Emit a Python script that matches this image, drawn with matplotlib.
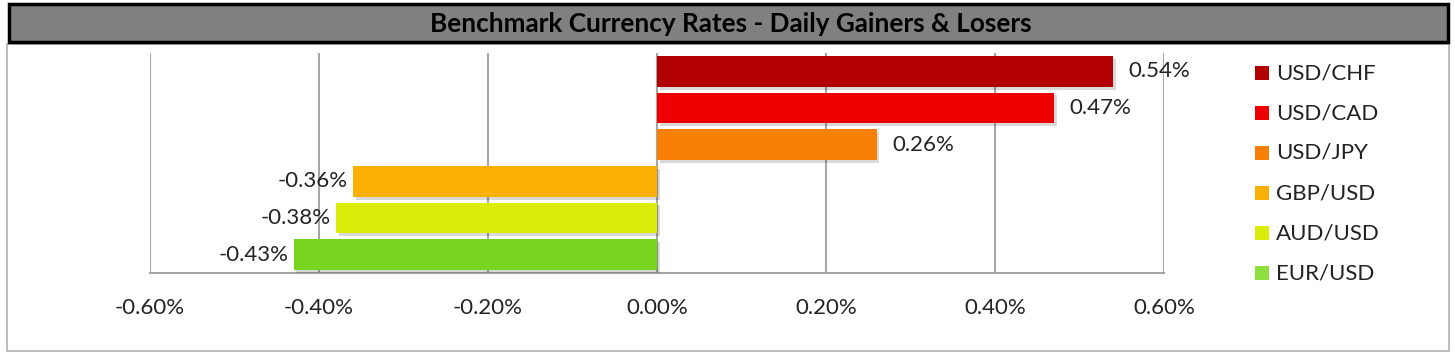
import matplotlib
matplotlib.use("Agg")
import matplotlib.pyplot as plt
from matplotlib.patches import Rectangle
import matplotlib.patheffects as pe
from matplotlib.ticker import FuncFormatter

pairs = ["USD/CHF", "USD/CAD", "USD/JPY", "GBP/USD", "AUD/USD", "EUR/USD"]
changes = [0.54, 0.47, 0.26, -0.36, -0.38, -0.43]
colors = ["#B20000", "#EE0000", "#F98007", "#F9B003", "#D9EC0A", "#77D41F"]
legend_colors = ["#B20000", "#EE0000", "#F98007", "#F9B003", "#D9EC0A", "#8EE040"]
title = "Benchmark Currency Rates - Daily Gainers & Losers"
xticks = [-0.6, -0.4, -0.2, 0.0, 0.2, 0.4, 0.6]

W, H = 1455, 361
fig = plt.figure(figsize=(W / 100, H / 100), dpi=100)
plt.rcParams['font.family'] = ['Lato', 'DejaVu Sans']
FS = 16

def fx(px): return px / W
def fy(py): return 1 - py / H

# outer frame
fig.patches.append(Rectangle((fx(7), fy(351)), fx(1449) - fx(7), fy(44) - fy(351),
                             transform=fig.transFigure, facecolor="white",
                             edgecolor="#B0B0B0", lw=1.2, zorder=-2))
# title bar
fig.patches.append(Rectangle((fx(9), fy(42)), fx(1448) - fx(9), fy(4) - fy(42),
                             transform=fig.transFigure, facecolor="#808080",
                             edgecolor="black", lw=2.5, zorder=-1))
fig.text(fx(731), fy(24), title, ha="center", va="center", fontsize=18.8,
         fontweight="bold", color="black")

ax = fig.add_axes([fx(150), fy(273), fx(1164) - fx(150), fy(53) - fy(273)])
ax.set_zorder(2)
n = len(pairs)
shadow = [pe.SimplePatchShadow(offset=(2, -2), shadow_rgbFace="#000000", alpha=0.15), pe.Normal()]
for i, (p, v, c) in enumerate(zip(pairs, changes, colors)):
    b = ax.barh(i, v, height=0.84, color=c, zorder=3, label=p)
    b[0].set_path_effects(shadow)
    if v >= 0:
        ax.text(v + 0.018, i, f"{v:.2f}%", ha="left", va="center", fontsize=FS, color="#222222")
    else:
        ax.text(v - 0.006, i, f"{v:.2f}%", ha="right", va="center", fontsize=FS, color="#222222")

ax.set_xlim(-0.6, 0.6)
ax.set_ylim(n - 0.5, -0.5)
ax.set_xticks(xticks)
ax.xaxis.set_major_formatter(FuncFormatter(lambda v, _: f"{v:.2f}%"))
ax.set_yticks([])
ax.tick_params(axis="x", length=0, pad=18, labelsize=FS, labelcolor="#222222")
ax.grid(axis="x", color="#A6A6A6", lw=1.5, zorder=0)
for s in ["top", "right", "left"]:
    ax.spines[s].set_visible(False)
ax.spines["bottom"].set_color("#A6A6A6")
ax.spines["bottom"].set_linewidth(1.5)
ax.set_facecolor("white")

# legend
for i, (p, c) in enumerate(zip(pairs, legend_colors)):
    yc = 73 + i * 40
    fig.patches.append(Rectangle((fx(1255), fy(yc + 7)), fx(14), fy(0) - fy(14),
                                 transform=fig.transFigure, facecolor=c, edgecolor="none"))
    fig.text(fx(1276), fy(yc), p, ha="left", va="center", fontsize=FS, color="#222222")

fig.savefig("out.png", dpi=100, facecolor="white")
